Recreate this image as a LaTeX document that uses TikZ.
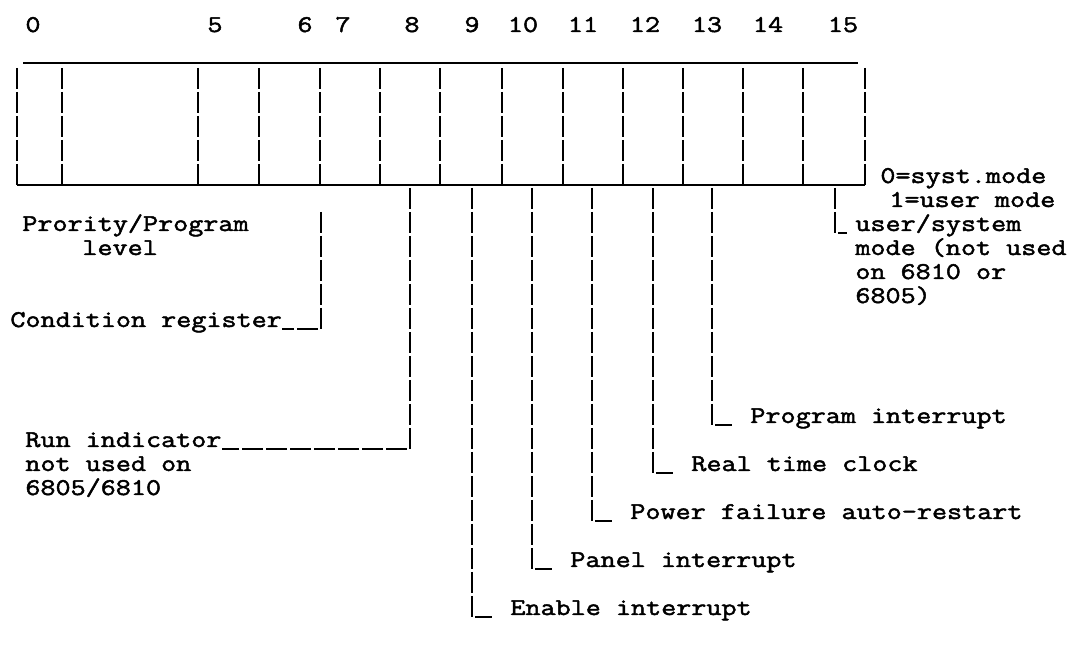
\documentclass[tikz,border=0pt]{standalone}
\usepackage{tikz}

% typewriter face: Latin Modern Mono, widened and darkened
\font\typew="[lmmono12-regular]:extend=1.22;embolden=2" at 12pt

\begin{document}
\begin{tikzpicture}[x=0.5pt,y=-0.5pt,
  rule/.style={line width=1.2pt},
  bar/.style={line width=1.2pt,dash pattern=on 10.5pt off 1.5pt},
  txt/.style={font=\typew,inner sep=0pt,anchor=base west},
  num/.style={font=\typew,inner sep=0pt,anchor=base}]

\useasboundingbox (0,0) rectangle (1087,667);

% Parameters of the typed sheet (pixels)
\def\bl{183}  % baseline of row 0
\def\rh{24}   % row pitch

% Bit numbers
\node[num] (n0)  at (33,32)  {0};
\node[num] (n5)  at (215,32) {5};
\node[num] (n6)  at (305,32) {6};
\node[num] (n7)  at (343,32) {7};
\node[num] (n8)  at (412,32) {8};
\node[num] (n9)  at (472,32) {9};
\node[num] (n10) at (523,32) {10};
\node[num] (n11) at (583,32) {11};
\node[num] (n12) at (645,32) {12};
\node[num] (n13) at (707,32) {13};
\node[num] (n14) at (768,32) {14};
\node[num] (n15) at (843,32) {15};

% Register
\draw[rule] (23,63) -- (858,63);
\draw[rule] (17,185) -- (865,185);
\foreach \x in {17,62,198,259,320,380,440,502,563,623,683,743,803,865}
  \draw[bar] (\x,68) -- (\x,185);

% Tap points under the fields
\coordinate (c7)  at (321,212);
\coordinate (c8)  at (410,188);
\coordinate (c9)  at (472,188);
\coordinate (c10) at (532,188);
\coordinate (c11) at (592,188);
\coordinate (c12) at (653,188);
\coordinate (c13) at (712,188);
\coordinate (c15) at (835,188);

% Mode bit notes
\node[txt] (sys)  at (880,{\bl})       {0=syst.mode};
\node[txt] (usr)  at (889,{\bl+\rh})   {1=user mode};
\node[txt] (ums1) at (855,{\bl+2*\rh}) {user/system};
\node[txt] (ums2) at (855,{\bl+3*\rh}) {mode (not used};
\node[txt] (ums3) at (855,{\bl+4*\rh}) {on 6810 or};
\node[txt] (ums4) at (855,{\bl+5*\rh}) {6805)};

% Left labels
\node[txt] (prio1) at (22,{\bl+2*\rh})  {Prority/Program};
\node[txt] (prio2) at (82,{\bl+3*\rh})  {level};
\node[txt] (cond)  at (10,{\bl+6*\rh})  {Condition register};
\node[txt] (run1)  at (25,{\bl+11*\rh}) {Run indicator};
\node[txt] (run2)  at (25,{\bl+12*\rh}) {not used on};
\node[txt] (run3)  at (25,{\bl+13*\rh}) {6805/6810};

% Right labels
\node[txt] (prog)  at (750,{\bl+10*\rh}) {Program interrupt};
\node[txt] (rtc)   at (691,{\bl+12*\rh}) {Real time clock};
\node[txt] (power) at (630,{\bl+14*\rh}) {Power failure auto-restart};
\node[txt] (panel) at (570,{\bl+16*\rh}) {Panel interrupt};
\node[txt] (enab)  at (510,{\bl+18*\rh}) {Enable interrupt};

% Connectors
\draw[bar] (c7)  |- ([yshift=-1pt]cond.base east);
\draw[bar] (c8)  |- ([yshift=-1pt]run1.base east);
\draw[bar] (c9)  |- ([xshift=-9pt,yshift=-1pt]enab.base west);
\draw[bar] (c10) |- ([xshift=-9pt,yshift=-1pt]panel.base west);
\draw[bar] (c11) |- ([xshift=-9pt,yshift=-1pt]power.base west);
\draw[bar] (c12) |- ([xshift=-9pt,yshift=-1pt]rtc.base west);
\draw[bar] (c13) |- ([xshift=-9pt,yshift=-1pt]prog.base west);
\draw[bar] (c15) |- ([xshift=-4pt,yshift=-1pt]ums1.base west);

\end{tikzpicture}
\end{document}
